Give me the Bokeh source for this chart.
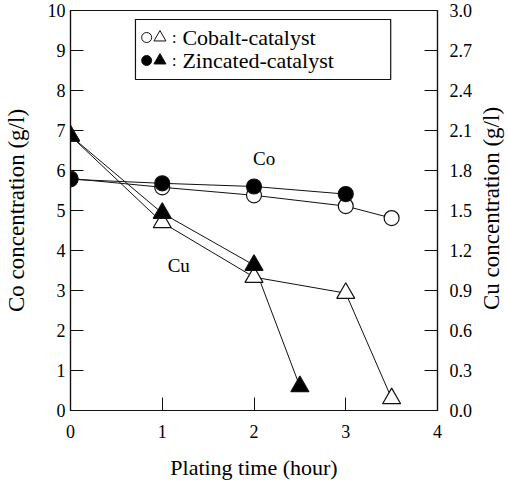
import math
from bokeh.plotting import figure
from bokeh.layouts import row
from bokeh.models import Range1d, LinearAxis, FixedTicker, Label, NumeralTickFormatter
from bokeh.embed import file_html
from bokeh.resources import INLINE

# ---- data ----
time_cobalt = [0, 1, 2, 3, 3.5]
co_cobalt = [5.80, 5.58, 5.38, 5.11, 4.81]
cu_cobalt = [2.06, 1.41, 1.00, 0.88, 0.09]

time_zinc_co = [0, 1, 2, 3]
co_zinc = [5.78, 5.68, 5.60, 5.41]
time_zinc_cu = [0, 1, 2, 2.5]
cu_zinc = [2.06, 1.48, 1.09, 0.18]

x_ticks = [0, 1, 2, 3, 4]
co_ticks = [0, 1, 2, 3, 4, 5, 6, 7, 8, 9, 10]
cu_ticks = [0.0, 0.3, 0.6, 0.9, 1.2, 1.5, 1.8, 2.1, 2.4, 2.7, 3.0]

legend_labels = ["Cobalt-catalyst", "Zincated-catalyst"]

FONT = "Liberation Serif"
INK = "#111111"

p = figure(frame_width=367, frame_height=400,
           x_range=Range1d(0, 4), y_range=Range1d(0, 10),
           output_backend="svg", toolbar_location=None,
           min_border_left=65, min_border_right=42,
           min_border_top=10, min_border_bottom=59,
           background_fill_color="white", border_fill_color="white")
p.extra_y_ranges = {"cu": Range1d(0, 3)}
p.grid.visible = False
p.outline_line_color = INK
p.outline_line_width = 1.2

xa = p.xaxis[0]
xa.ticker = FixedTicker(ticks=x_ticks)
xa.axis_label = "Plating time (hour)"
ya = p.yaxis[0]
ya.ticker = FixedTicker(ticks=co_ticks)
ya.axis_label = "Co concentration (g/l)"

ra = LinearAxis(y_range_name="cu", ticker=FixedTicker(ticks=cu_ticks),
                formatter=NumeralTickFormatter(format="0.0"))
p.add_layout(ra, "right")

for ax in [xa, ya, ra]:
    ax.major_tick_in = 13
    ax.major_tick_out = 0
    ax.minor_tick_line_color = None
    ax.axis_line_color = INK
    ax.axis_line_width = 1.2
    ax.major_tick_line_color = INK
    ax.major_label_text_font = FONT
    ax.major_label_text_font_size = "18px"
    ax.major_label_text_color = "black"
    ax.axis_label_text_font = FONT
    ax.axis_label_text_font_size = "22px"
    ax.axis_label_text_font_style = "normal"
    ax.axis_label_text_color = "black"

ya.axis_label_text_font_size = "23px"
xa.major_label_standoff = 14
xa.axis_label_standoff = 14
ya.major_label_standoff = 5
ya.axis_label_standoff = 16
ra.major_label_standoff = 12

# ---- series ----
p.line(time_cobalt, co_cobalt, line_color=INK, line_width=1)
p.line(time_zinc_co, co_zinc, line_color=INK, line_width=1)
p.line(time_cobalt, cu_cobalt, line_color=INK, line_width=1, y_range_name="cu")
p.line(time_zinc_cu, cu_zinc, line_color=INK, line_width=1, y_range_name="cu")

p.scatter(time_cobalt, co_cobalt, marker="circle", size=15,
          fill_color="white", line_color=INK, line_width=1.2)
p.scatter(time_zinc_co, co_zinc, marker="circle", size=15,
          fill_color="black", line_color=INK, line_width=1.2)
p.scatter(time_cobalt, cu_cobalt, marker="triangle", size=18,
          fill_color="white", line_color=INK, line_width=1.2, y_range_name="cu")
p.scatter(time_zinc_cu, cu_zinc, marker="triangle", size=18,
          fill_color="black", line_color=INK, line_width=1.2, y_range_name="cu")

p.add_layout(Label(x=2.11, y=6.3, text="Co", text_font=FONT, text_font_size="19px",
                   text_align="center", text_baseline="middle", text_color="black"))
p.add_layout(Label(x=1.18, y=3.62, text="Cu", text_font=FONT, text_font_size="19px",
                   text_align="center", text_baseline="middle", text_color="black"))

# ---- legend (layout positions) ----
p.quad(left=[0.708], right=[3.49], bottom=[8.275], top=[9.775],
       fill_color="white", line_color=INK, line_width=1.2)
row_y = [9.325, 8.75]
key_circle_x = 0.83
key_tri_x = 0.975
p.scatter([key_circle_x], [row_y[0]], marker="circle", size=10, fill_color="white", line_color=INK)
p.scatter([key_tri_x], [row_y[0]], marker="triangle", size=12, fill_color="white", line_color=INK)
p.scatter([key_circle_x], [row_y[1]], marker="circle", size=10, fill_color="black", line_color=INK)
p.scatter([key_tri_x], [row_y[1]], marker="triangle", size=12, fill_color="black", line_color=INK)
for ry, lab in zip(row_y, legend_labels):
    p.add_layout(Label(x=1.13, y=ry, text=":", text_font=FONT, text_font_size="16px",
                       text_align="center", text_baseline="middle", text_color="black"))
    p.add_layout(Label(x=1.22, y=ry, text=lab, text_font=FONT, text_font_size="22px",
                       text_align="left", text_baseline="middle", text_color="black"))

# ---- right-hand axis title (bottom-to-top, like the left one) ----
q = figure(frame_width=26, frame_height=400,
           x_range=Range1d(0, 1), y_range=p.y_range,
           x_axis_type=None, y_axis_type=None,
           output_backend="svg", toolbar_location=None,
           min_border_left=0, min_border_right=0,
           min_border_top=10, min_border_bottom=59,
           background_fill_color="white", border_fill_color="white")
q.grid.visible = False
q.outline_line_color = None
q.add_layout(Label(x=0.45, y=5.05, text="Cu concentration (g/l)", angle=math.pi / 2,
                   text_font=FONT, text_font_size="23px", text_color="black",
                   text_align="center", text_baseline="middle"))

layout = row(p, q, spacing=0)
open("out.html", "w").write(file_html(layout, INLINE))
